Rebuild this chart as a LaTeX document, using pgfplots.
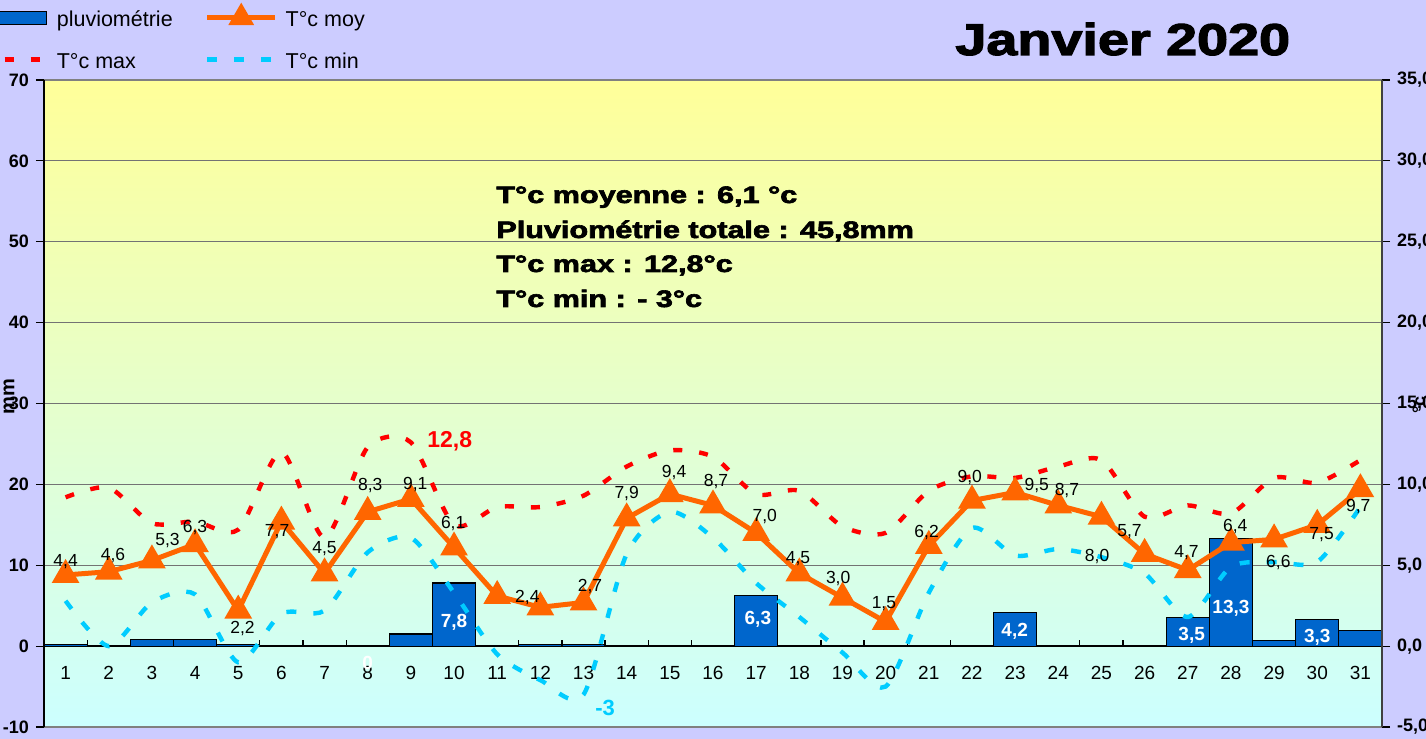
\documentclass[border=0pt]{standalone}
\usepackage{fontspec}
\setmainfont{Liberation Sans}
\newfontfamily\heavyfont[FakeBold=2.5]{Liberation Sans Bold}
\usepackage{graphicx}
\usepackage{pgfplots}
\pgfplotsset{compat=1.18}

\definecolor{lav}{HTML}{CCCCFF}
\definecolor{ptop}{HTML}{FFFF99}
\definecolor{pbot}{HTML}{CCFFFF}
\definecolor{barblue}{HTML}{0066CC}
\definecolor{moy}{HTML}{FF6600}
\definecolor{tmax}{HTML}{FF0000}
\definecolor{tmin}{HTML}{00CCFF}

\pgfplotsset{
  barleg/.style={legend image code/.code={\draw[##1] (0pt,-3.25pt) rectangle (34pt,3.25pt);}},
  lineleg/.style={legend image code/.code={\draw[mark repeat=2, mark phase=2, ##1] plot coordinates {(0pt,0pt) (17pt,0pt) (34pt,0pt)};}},
}

\begin{document}
\begin{tikzpicture}[x=1pt,y=1pt]
\fill[lav] (0,0) rectangle (713,369.5);

% ---------- left axis: rainfall (mm) ----------
\begin{axis}[
  at={(22pt,6pt)}, anchor=south west,
  scale only axis, width=669pt, height=323.5pt,
  xmin=0.5, xmax=31.5, ymin=-10, ymax=70,
  axis background/.style={top color=ptop, bottom color=pbot},
  separate axis lines,
  x axis line style={draw=black!50, line width=0.8pt},
  y axis line style={draw=black, line width=0.8pt},
  xtick={1,...,31}, xtick style={draw=none},
  xticklabel style={anchor=center, yshift=31pt, font=\fontsize{9.5}{11}\selectfont},
  ytick={-10,0,...,70}, ytick pos=left, tick align=outside, major tick length=4pt,
  ytick style={draw=black, line width=0.6pt},
  yticklabel style={font=\bfseries\fontsize{9}{10}\selectfont},
  ymajorgrids, major grid style={draw=black!55, line width=0.6pt},
  /pgf/number format/assume math mode=true,
]
\addplot[ycomb, black, line width=0.6pt, mark=none] coordinates {
 (1.5,0.75) (2.5,0.75) (3.5,0.75) (4.5,0.75) (5.5,0.75) (6.5,0.75) (7.5,0.75) (8.5,0.75)
 (9.5,0.75) (10.5,0.75) (11.5,0.75) (12.5,0.75) (13.5,0.75) (14.5,0.75) (15.5,0.75)
 (16.5,0.75) (17.5,0.75) (18.5,0.75) (19.5,0.75) (20.5,0.75) (21.5,0.75) (22.5,0.75)
 (23.5,0.75) (24.5,0.75) (25.5,0.75) (26.5,0.75) (27.5,0.75) (28.5,0.75) (29.5,0.75) (30.5,0.75)};
\addplot[black, line width=0.8pt, mark=none] coordinates {(0.5,0) (31.5,0)};
\addplot[ybar, bar width=1, bar shift=0pt, fill=barblue, draw=black, line width=0.6pt] table {
x y
1 0.2
2 0
3 0.8
4 0.8
5 0.2
6 0
7 0
8 0
9 1.5
10 7.8
11 0
12 0.2
13 0.2
14 0
15 0
16 0
17 6.3
18 0
19 0
20 0
21 0
22 0
23 4.2
24 0
25 0
26 0
27 3.5
28 13.3
29 0.7
30 3.3
31 1.9
};
\addplot[draw=none, mark=none, nodes near coords, point meta=explicit symbolic,
  nodes near coords style={anchor=center, inner sep=0pt, text=white, font=\bfseries\fontsize{9.5}{11}\selectfont}]
 coordinates {
 (10,3.0) [{7,8}]
 (17.04,3.3) [{6,3}]
 (22.99,1.85) [{4,2}]
 (27.09,1.35) [{3,5}]
 (28.0,4.7) [{13,3}]
 (30.0,1.1) [{3,3}]
 (8.0,-2.1) [{0}]
};
\end{axis}

% ---------- right axis: temperatures ----------
\begin{axis}[
  at={(22pt,6pt)}, anchor=south west,
  scale only axis, width=669pt, height=323.5pt,
  xmin=0.5, xmax=31.5, ymin=-5, ymax=35,
  axis x line=none, axis y line*=right,
  y axis line style={draw=black!75, line width=0.8pt},
  ytick={-5,0,...,35}, tick align=outside, major tick length=4pt,
  ytick style={draw=black, line width=0.6pt},
  yticklabel style={font=\bfseries\fontsize{9}{10}\selectfont,
    /pgf/number format/.cd, fixed, fixed zerofill, precision=1, use comma},
  /pgf/number format/assume math mode=true,
  legend columns=2,
  legend cell align=left,
  legend style={at={(-0.0508,1.1124)}, anchor=north west, draw=none, fill=none,
    inner sep=0pt, row sep=12pt,
    font=\fontsize{10.75}{12}\selectfont,
    nodes={inner sep=0pt, text height=9pt, text depth=0pt},
    /tikz/every odd column/.append style={column sep=4pt},
    /tikz/every even column/.append style={column sep=16pt}},
]
\addlegendimage{fill=barblue, draw=black, line width=0.6pt, barleg}
\addlegendentry{pluviométrie}
\addlegendimage{moy, line width=2.5pt, mark=triangle*, mark size=5pt, mark options={solid}, lineleg}
\addlegendentry{T°c moy}
\addlegendimage{tmax, line width=2.2pt, dash pattern=on 4.5pt off 8.5pt, lineleg}
\addlegendentry{T°c max}
\addlegendimage{tmin, line width=2.2pt, dash pattern=on 5pt off 8.5pt, lineleg}
\addlegendentry{T°c min}

\addplot[tmax, line width=2.2pt, dash pattern=on 4.5pt off 8.5pt, smooth, tension=0.45, mark=none, forget plot] coordinates {
 (1,9.2) (2,9.8) (3,7.6) (4,7.7) (5,7.2) (6,12.0) (7,6.7) (8,12.3) (9,12.6) (10,7.5)
 (11,8.6) (12,8.6) (13,9.3) (14,11.1) (15,12.1) (16,11.7) (17,9.4) (18,9.6) (19,7.4) (20,7.0)
 (21,9.6) (22,10.5) (23,10.4) (24,11.1) (25,11.5) (26,8.0) (27,8.7) (28,8.2) (29,10.4) (30,10.1) (31,11.5)};
\addplot[tmin, line width=2.2pt, dash pattern=on 5pt off 8.5pt, smooth, tension=0.45, mark=none, forget plot] coordinates {
 (1,2.8) (2,0.0) (3,2.7) (4,3.2) (5,-1.0) (6,2.0) (7,2.2) (8,5.8) (9,6.7) (10,3.3)
 (11,-0.5) (12,-2.1) (13,-3.0) (14,5.7) (15,8.3) (16,6.7) (17,3.9) (18,1.8) (19,-0.4) (20,-2.5)
 (21,3.3) (22,7.3) (23,5.6) (24,6.0) (25,5.5) (26,4.5) (27,1.8) (28,4.9) (29,5.2) (30,5.2) (31,8.6)};
\addplot[moy, line width=2.5pt, mark=triangle*, mark size=5.5pt, mark options={solid}, forget plot] coordinates {
 (1,4.4) (2,4.6) (3,5.3) (4,6.3) (5,2.2) (6,7.7) (7,4.5) (8,8.3) (9,9.1) (10,6.1)
 (11,3.1) (12,2.4) (13,2.7) (14,7.9) (15,9.4) (16,8.7) (17,7.0) (18,4.5) (19,3.0) (20,1.5)
 (21,6.2) (22,9.0) (23,9.5) (24,8.7) (25,8.0) (26,5.7) (27,4.7) (28,6.4) (29,6.6) (30,7.5) (31,9.7)};

\addplot[draw=none, mark=none, forget plot, nodes near coords, point meta=explicit symbolic,
  nodes near coords style={anchor=center, inner sep=0pt, text=black, font=\fontsize{8.75}{10}\selectfont}]
 coordinates {
 (1.0,5.2) [{4,4}] (2.1,5.6) [{4,6}] (3.36,6.5) [{5,3}] (4.0,7.35) [{6,3}] (5.1,1.1) [{2,2}]
 (5.9,7.05) [{7,7}] (7.0,6.05) [{4,5}] (8.06,9.95) [{8,3}] (9.1,10.0) [{9,1}] (9.98,7.55) [{6,1}]
 (11.7,3.0) [{2,4}] (13.15,3.7) [{2,7}] (14.0,9.45) [{7,9}] (15.1,10.75) [{9,4}] (16.07,10.15) [{8,7}]
 (17.2,8.0) [{7,0}] (17.97,5.4) [{4,5}] (18.9,4.15) [{3,0}] (19.96,2.65) [{1,5}] (20.95,7.05) [{6,2}]
 (21.95,10.45) [{9,0}] (23.5,9.9) [{9,5}] (24.2,9.6) [{8,7}] (24.9,5.55) [{8,0}] (25.65,7.1) [{5,7}]
 (26.97,5.8) [{4,7}] (28.1,7.4) [{6,4}] (29.1,5.2) [{6,6}] (30.1,6.9) [{7,5}] (30.95,8.65) [{9,7}]
};
\addplot[draw=none, mark=none, forget plot, nodes near coords, point meta=explicit symbolic,
  nodes near coords style={anchor=center, inner sep=0pt, text=tmax, font=\bfseries\fontsize{11.5}{13}\selectfont}]
 coordinates {(9.9,12.65) [{12,8}]};
\addplot[draw=none, mark=none, forget plot, nodes near coords, point meta=explicit symbolic,
  nodes near coords style={anchor=center, inner sep=0pt, text=tmin, font=\bfseries\fontsize{11}{13}\selectfont}]
 coordinates {(13.5,-3.85) [{-3}]};
\end{axis}

% ---------- titles / annotations ----------
\node[anchor=base west, inner sep=0pt, font=\heavyfont\fontsize{22.3}{26}\selectfont] at (477.5,342) {\scalebox{1.25}[1]{Janvier 2020}};
\node[anchor=base west, inner sep=0pt, font=\heavyfont\fontsize{11.9}{14}\selectfont] at (248,268) {\scalebox{1.285}[1]{T°c moyenne : 6,1 °c}};
\node[anchor=base west, inner sep=0pt, font=\heavyfont\fontsize{11.9}{14}\selectfont] at (248,250.5) {\scalebox{1.285}[1]{Pluviométrie totale : 45,8mm}};
\node[anchor=base west, inner sep=0pt, font=\heavyfont\fontsize{11.9}{14}\selectfont] at (248,233.5) {\scalebox{1.285}[1]{T°c max : 12,8°c}};
\node[anchor=base west, inner sep=0pt, font=\heavyfont\fontsize{11.9}{14}\selectfont] at (248,216) {\scalebox{1.285}[1]{T°c min : - 3°c}};
\node[rotate=90, anchor=center, inner sep=0pt, font=\bfseries\fontsize{10}{11}\selectfont] at (4.5,171) {mm};
\node[rotate=90, anchor=center, inner sep=0pt, font=\bfseries\fontsize{9}{10}\selectfont] at (709.5,167) {°c};

\pgfresetboundingbox
\useasboundingbox (0,0) rectangle (713,369.5);
\end{tikzpicture}
\end{document}
